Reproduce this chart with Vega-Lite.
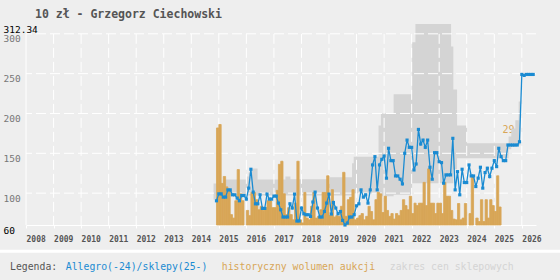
{
  "$schema": "https://vega.github.io/schema/vega-lite/v6.json",
  "width": 510,
  "height": 201,
  "autosize": {"type": "none"},
  "padding": {"left": 26, "top": 24, "right": 24, "bottom": 55},
  "background": "#eeeeee",
  "title": {"text": "10 zł - Grzegorz Ciechowski", "anchor": "start", "frame": "group", "dx": 9, "dy": 12, "offset": 7, "baseline": "alphabetic", "font": "DejaVu Sans Mono", "fontSize": 11.5, "fontWeight": "bold", "color": "#555555"},
  "config": {"view": {"stroke": null}, "font": "DejaVu Sans Mono"},
  "datasets": {
    "price": [
      {"d":"2014-12-01","p":90.4},{"d":"2015-01-01","p":99.1},{"d":"2015-02-01","p":99.1},{"d":"2015-03-01","p":95},{"d":"2015-04-01","p":95},{"d":"2015-05-01","p":104.1},{"d":"2015-06-01","p":104.1},{"d":"2015-07-01","p":97.9},{"d":"2015-08-01","p":97.9},{"d":"2015-09-01","p":93.8},{"d":"2015-10-01","p":90.4},{"d":"2015-11-01","p":97},{"d":"2015-12-01","p":97},
      {"d":"2016-01-01","p":92.5},{"d":"2016-02-01","p":106.3},{"d":"2016-03-01","p":130},{"d":"2016-04-01","p":101.3},{"d":"2016-05-01","p":86.6},{"d":"2016-06-01","p":86.6},{"d":"2016-07-01","p":97.9},{"d":"2016-08-01","p":80.8},{"d":"2016-09-01","p":80.8},{"d":"2016-10-01","p":98.8},{"d":"2016-11-01","p":92.5},{"d":"2016-12-01","p":92.5},
      {"d":"2017-01-01","p":96.3},{"d":"2017-02-01","p":96.3},{"d":"2017-03-01","p":87.5},{"d":"2017-04-01","p":79.1},{"d":"2017-05-01","p":70},{"d":"2017-06-01","p":70},{"d":"2017-07-01","p":70},{"d":"2017-08-01","p":86.6},{"d":"2017-09-01","p":81.3},{"d":"2017-10-01","p":98.8},{"d":"2017-11-01","p":65},{"d":"2017-12-01","p":65},
      {"d":"2018-01-01","p":81.3},{"d":"2018-02-01","p":74.1},{"d":"2018-03-01","p":72.9},{"d":"2018-04-01","p":72.9},{"d":"2018-05-01","p":70.8},{"d":"2018-06-01","p":88.8},{"d":"2018-07-01","p":101.3},{"d":"2018-08-01","p":81.3},{"d":"2018-09-01","p":70},{"d":"2018-10-01","p":70},{"d":"2018-11-01","p":77},{"d":"2018-12-01","p":87.5},
      {"d":"2019-01-01","p":98.8},{"d":"2019-02-01","p":73.8},{"d":"2019-03-01","p":88.3},{"d":"2019-04-01","p":81.3},{"d":"2019-05-01","p":74.1},{"d":"2019-06-01","p":77},{"d":"2019-07-01","p":65.8},{"d":"2019-08-01","p":60},{"d":"2019-09-01","p":62.5},{"d":"2019-10-01","p":70},{"d":"2019-11-01","p":70},{"d":"2019-12-01","p":72.9},
      {"d":"2020-01-01","p":84.1},{"d":"2020-02-01","p":86.6},{"d":"2020-03-01","p":104.1},{"d":"2020-04-01","p":95},{"d":"2020-05-01","p":97.9},{"d":"2020-06-01","p":87.5},{"d":"2020-07-01","p":104.1},{"d":"2020-08-01","p":135.4},{"d":"2020-09-01","p":145.8},{"d":"2020-10-01","p":104.1},{"d":"2020-11-01","p":135.4},{"d":"2020-12-01","p":142.5},
      {"d":"2021-01-01","p":146.6},{"d":"2021-02-01","p":118.8},{"d":"2021-03-01","p":156.3},{"d":"2021-04-01","p":140.8},{"d":"2021-05-01","p":140.8},{"d":"2021-06-01","p":121.6},{"d":"2021-07-01","p":121.6},{"d":"2021-08-01","p":117.5},{"d":"2021-09-01","p":111.6},{"d":"2021-10-01","p":150},{"d":"2021-11-01","p":166.6},{"d":"2021-12-01","p":157.5},
      {"d":"2022-01-01","p":157.5},{"d":"2022-02-01","p":129.1},{"d":"2022-03-01","p":136.6},{"d":"2022-04-01","p":180},{"d":"2022-05-01","p":161.6},{"d":"2022-06-01","p":166.6},{"d":"2022-07-01","p":157.5},{"d":"2022-08-01","p":166.6},{"d":"2022-09-01","p":132.5},{"d":"2022-10-01","p":117.5},{"d":"2022-11-01","p":150.8},{"d":"2022-12-01","p":150.8},
      {"d":"2023-01-01","p":139.5},{"d":"2023-02-01","p":138.3},{"d":"2023-03-01","p":112.5},{"d":"2023-04-01","p":122.9},{"d":"2023-05-01","p":122.9},{"d":"2023-06-01","p":122.9},{"d":"2023-07-01","p":168.8},{"d":"2023-08-01","p":104.1},{"d":"2023-09-01","p":127},{"d":"2023-10-01","p":97.9},{"d":"2023-11-01","p":130},{"d":"2023-12-01","p":113.3},
      {"d":"2024-01-01","p":113.3},{"d":"2024-02-01","p":135.4},{"d":"2024-03-01","p":121.6},{"d":"2024-04-01","p":121.6},{"d":"2024-05-01","p":108.3},{"d":"2024-06-01","p":118.8},{"d":"2024-07-01","p":132.5},{"d":"2024-08-01","p":106.3},{"d":"2024-09-01","p":125.8},{"d":"2024-10-01","p":131.3},{"d":"2024-11-01","p":120.8},{"d":"2024-12-01","p":131.3},
      {"d":"2025-01-01","p":140.8},{"d":"2025-02-01","p":133.3},{"d":"2025-03-01","p":156.3},{"d":"2025-04-01","p":145.8},{"d":"2025-05-01","p":140.8},{"d":"2025-06-01","p":140.8},{"d":"2025-07-01","p":160.4},{"d":"2025-08-01","p":160.4},{"d":"2025-09-01","p":160.4},{"d":"2025-10-01","p":160.4},{"d":"2025-11-01","p":160.4},{"d":"2025-12-01","p":164.5},
      {"d":"2026-01-01","p":249},{"d":"2026-02-01","p":247.8},{"d":"2026-03-01","p":249},{"d":"2026-04-01","p":249},{"d":"2026-05-01","p":249},{"d":"2026-06-01","p":249}
    ],
    "vol": [
      {"d":"2014-12-01","e":"2015-01-01","v":28},{"d":"2015-01-01","e":"2015-02-01","v":29},{"d":"2015-02-01","e":"2015-03-01","v":12},{"d":"2015-03-01","e":"2015-04-01","v":14},{"d":"2015-04-01","e":"2015-05-01","v":11},{"d":"2015-05-01","e":"2015-06-01","v":10},{"d":"2015-06-01","e":"2015-07-01","v":3},{"d":"2015-07-01","e":"2015-08-01","v":2},{"d":"2015-08-01","e":"2015-09-01","v":7},{"d":"2015-09-01","e":"2015-10-01","v":16},{"d":"2015-10-01","e":"2015-11-01","v":9},{"d":"2015-11-01","e":"2015-12-01","v":7},
      {"d":"2016-01-01","e":"2016-02-01","v":4.2},{"d":"2016-02-01","e":"2016-03-01","v":2.7},{"d":"2016-03-01","e":"2016-04-01","v":9.4},{"d":"2016-04-01","e":"2016-05-01","v":9.4},{"d":"2016-05-01","e":"2016-06-01","v":7.3},{"d":"2016-06-01","e":"2016-07-01","v":4.4},{"d":"2016-07-01","e":"2016-08-01","v":5.4},{"d":"2016-08-01","e":"2016-09-01","v":4.2},{"d":"2016-09-01","e":"2016-10-01","v":5},{"d":"2016-10-01","e":"2016-11-01","v":7},{"d":"2016-11-01","e":"2016-12-01","v":7},{"d":"2016-12-01","e":"2017-01-01","v":5},
      {"d":"2017-01-01","e":"2017-02-01","v":5},{"d":"2017-02-01","e":"2017-03-01","v":10},{"d":"2017-03-01","e":"2017-04-01","v":17.5},{"d":"2017-04-01","e":"2017-05-01","v":18.4},{"d":"2017-05-01","e":"2017-06-01","v":9},{"d":"2017-06-01","e":"2017-07-01","v":3},{"d":"2017-07-01","e":"2017-08-01","v":5},{"d":"2017-08-01","e":"2017-09-01","v":3},{"d":"2017-09-01","e":"2017-10-01","v":1.5},{"d":"2017-10-01","e":"2017-11-01","v":6.3},{"d":"2017-11-01","e":"2017-12-01","v":18.4},{"d":"2017-12-01","e":"2018-01-01","v":1.5},
      {"d":"2018-01-01","e":"2018-02-01","v":0.6},{"d":"2018-02-01","e":"2018-03-01","v":9.4},{"d":"2018-03-01","e":"2018-04-01","v":2},{"d":"2018-04-01","e":"2018-05-01","v":1.5},{"d":"2018-05-01","e":"2018-06-01","v":5.4},{"d":"2018-06-01","e":"2018-07-01","v":9.4},{"d":"2018-07-01","e":"2018-08-01","v":2},{"d":"2018-08-01","e":"2018-09-01","v":2.5},{"d":"2018-09-01","e":"2018-10-01","v":4.4},{"d":"2018-10-01","e":"2018-11-01","v":9.4},{"d":"2018-11-01","e":"2018-12-01","v":9.4},{"d":"2018-12-01","e":"2019-01-01","v":14.2},
      {"d":"2019-01-01","e":"2019-02-01","v":2.7},{"d":"2019-02-01","e":"2019-03-01","v":10.2},{"d":"2019-03-01","e":"2019-04-01","v":2.3},{"d":"2019-04-01","e":"2019-05-01","v":2.7},{"d":"2019-05-01","e":"2019-06-01","v":2.5},{"d":"2019-06-01","e":"2019-07-01","v":5.4},{"d":"2019-07-01","e":"2019-08-01","v":15.2},{"d":"2019-08-01","e":"2019-09-01","v":2.5},{"d":"2019-09-01","e":"2019-10-01","v":7.3},{"d":"2019-10-01","e":"2019-11-01","v":8},{"d":"2019-11-01","e":"2019-12-01","v":10.2},{"d":"2019-12-01","e":"2020-01-01","v":1.5},
      {"d":"2020-01-01","e":"2020-02-01","v":2},{"d":"2020-02-01","e":"2020-03-01","v":2.7},{"d":"2020-03-01","e":"2020-04-01","v":3.3},{"d":"2020-04-01","e":"2020-05-01","v":1.5},{"d":"2020-05-01","e":"2020-06-01","v":2.5},{"d":"2020-06-01","e":"2020-07-01","v":5.4},{"d":"2020-07-01","e":"2020-08-01","v":3.9},{"d":"2020-08-01","e":"2020-09-01","v":1.5},{"d":"2020-09-01","e":"2020-10-01","v":7.3},{"d":"2020-10-01","e":"2020-11-01","v":9.4},{"d":"2020-11-01","e":"2020-12-01","v":9},{"d":"2020-12-01","e":"2021-01-01","v":3.6},
      {"d":"2021-01-01","e":"2021-02-01","v":8.3},{"d":"2021-02-01","e":"2021-03-01","v":4.2},{"d":"2021-03-01","e":"2021-04-01","v":2.5},{"d":"2021-04-01","e":"2021-05-01","v":3.3},{"d":"2021-05-01","e":"2021-06-01","v":1.7},{"d":"2021-06-01","e":"2021-07-01","v":3.3},{"d":"2021-07-01","e":"2021-08-01","v":2.7},{"d":"2021-08-01","e":"2021-09-01","v":4.2},{"d":"2021-09-01","e":"2021-10-01","v":7.3},{"d":"2021-10-01","e":"2021-11-01","v":5.6},{"d":"2021-11-01","e":"2021-12-01","v":4.4},{"d":"2021-12-01","e":"2022-01-01","v":8.3},
      {"d":"2022-01-01","e":"2022-02-01","v":3.3},{"d":"2022-02-01","e":"2022-03-01","v":6.3},{"d":"2022-03-01","e":"2022-04-01","v":5.6},{"d":"2022-04-01","e":"2022-05-01","v":6.3},{"d":"2022-05-01","e":"2022-06-01","v":6.3},{"d":"2022-06-01","e":"2022-07-01","v":12.3},{"d":"2022-07-01","e":"2022-08-01","v":5.6},{"d":"2022-08-01","e":"2022-09-01","v":16.2},{"d":"2022-09-01","e":"2022-10-01","v":6.3},{"d":"2022-10-01","e":"2022-11-01","v":6.3},{"d":"2022-11-01","e":"2022-12-01","v":3.3},{"d":"2022-12-01","e":"2023-01-01","v":6.3},
      {"d":"2023-01-01","e":"2023-02-01","v":6.3},{"d":"2023-02-01","e":"2023-03-01","v":3.3},{"d":"2023-03-01","e":"2023-04-01","v":12.3},{"d":"2023-04-01","e":"2023-05-01","v":8.3},{"d":"2023-05-01","e":"2023-06-01","v":8.3},{"d":"2023-06-01","e":"2023-07-01","v":4.2},{"d":"2023-07-01","e":"2023-08-01","v":1.7},{"d":"2023-08-01","e":"2023-09-01","v":1.5},{"d":"2023-09-01","e":"2023-10-01","v":6.2},{"d":"2023-10-01","e":"2023-11-01","v":1.5},{"d":"2023-11-01","e":"2023-12-01","v":2},{"d":"2023-12-01","e":"2024-01-01","v":6.2},
      {"d":"2024-02-01","e":"2024-03-01","v":3.3},{"d":"2024-03-01","e":"2024-04-01","v":14.2},{"d":"2024-05-01","e":"2024-06-01","v":2},{"d":"2024-06-01","e":"2024-07-01","v":1},{"d":"2024-07-01","e":"2024-08-01","v":7.3},{"d":"2024-08-01","e":"2024-09-01","v":1},{"d":"2024-09-01","e":"2024-10-01","v":7.3},{"d":"2024-10-01","e":"2024-11-01","v":2},{"d":"2024-11-01","e":"2024-12-01","v":7.3},{"d":"2024-12-01","e":"2025-01-01","v":5.6},
      {"d":"2025-01-01","e":"2025-02-01","v":3.9},{"d":"2025-02-01","e":"2025-03-01","v":14.2},{"d":"2025-03-01","e":"2025-04-01","v":5.2}
    ],
    "band": [
      {"d":"2014-10-23","lo":92,"hi":112},{"d":"2015-01-01","lo":97,"hi":112},{"d":"2015-03-28","lo":97,"hi":117},{"d":"2016-01-08","lo":97,"hi":121},{"d":"2016-02-01","lo":97,"hi":126},{"d":"2016-02-20","lo":97,"hi":131},{"d":"2016-05-29","lo":97,"hi":117},{"d":"2017-06-02","lo":97,"hi":121},{"d":"2017-08-07","lo":97,"hi":117.5},{"d":"2018-12-24","lo":97,"hi":120},{"d":"2019-11-03","lo":100,"hi":137.5},{"d":"2019-11-25","lo":100,"hi":145.8},{"d":"2020-10-19","lo":96,"hi":185},{"d":"2020-11-20","lo":96,"hi":200},{"d":"2021-05-07","lo":98,"hi":224},{"d":"2022-01-07","lo":112.5,"hi":289.5},{"d":"2022-02-20","lo":112.5,"hi":312.34},{"d":"2023-06-08","lo":112.5,"hi":284},{"d":"2023-07-08","lo":130,"hi":230},{"d":"2023-08-26","lo":143.8,"hi":185},{"d":"2024-01-04","lo":143.8,"hi":162.5},{"d":"2025-07-09","lo":155,"hi":171},{"d":"2025-08-14","lo":158,"hi":181},{"d":"2025-10-07","lo":160,"hi":191.6},{"d":"2025-11-20","lo":160,"hi":215},{"d":"2025-12-13","lo":160,"hi":215}
    ]
  },
  "layer": [
    {
      "data": {"name": "band"},
      "mark": {"type": "area", "interpolate": "step-after"},
      "encoding": {
        "x": {"field": "d", "type": "temporal", "scale": {"domain": [{"year": 2008, "month": 1, "date": 1}, {"year": 2026, "month": 7, "date": 8}], "nice": false},
          "axis": {"tickCount": {"interval": "year", "step": 1}, "format": "%Y", "labelAlign": "left", "labelFont": "DejaVu Sans Mono", "labelFontSize": 8, "labelFontWeight": "bold", "labelColor": "#555555", "labelPadding": 7, "tickColor": "white", "tickSize": 3, "domainColor": "white", "grid": false, "title": null, "labelFlush": false, "labelOverlap": false, "labelBound": false}},
        "y": {"field": "hi", "type": "quantitative", "scale": {"domain": [60, 312.34], "nice": false, "zero": false},
          "axis": {"values": [60, 100, 150, 200, 250, 300, 312.34], "format": ".5~r", "labelAlign": "left", "labelBaseline": "top", "labelPadding": 23, "ticks": false, "tickSize": 0, "domain": false, "grid": false, "title": null, "labelFont": "DejaVu Sans Mono", "labelFontSize": 9.5, "labelOverlap": false, "labelFlush": false, "labelBound": false,
            "labelColor": {"condition": {"test": "datum.value == 60 || datum.value > 310", "value": "#000000"}, "value": "#777777"}}},
        "y2": {"field": "lo"},
        "color": {"datum": "zakres cen sklepowych", "type": "nominal",
          "scale": {"domain": ["Allegro(-24)/sklepy(25-)", "historyczny wolumen aukcji", "zakres cen sklepowych"], "range": ["#1a8bd2", "#d8a657", "#d4d4d4"]},
          "legend": {"title": "Legenda:", "orient": "none", "legendX": -16, "legendY": 238, "direction": "horizontal", "titleOrient": "left", "titleAngle": 0, "titlePadding": -2, "titleFont": "DejaVu Sans Mono", "titleFontSize": 9.8, "titleFontWeight": "normal", "titleColor": "#555555", "titleBaseline": "middle", "labelFont": "DejaVu Sans Mono", "labelFontSize": 9.8, "labelColor": {"expr": "scale('color', datum.value)"}, "labelOffset": 0, "symbolSize": 0, "symbolOpacity": 0, "symbolStrokeWidth": 0, "columnPadding": 4, "labelLimit": 300}}
      }
    },
    {
      "data": {"values": [{"g": 100}, {"g": 150}, {"g": 200}, {"g": 250}, {"g": 300}]},
      "mark": {"type": "rule", "color": "white", "strokeWidth": 1, "strokeDash": [10, 4]},
      "encoding": {
        "y": {"field": "g", "type": "quantitative", "scale": {"domain": [60, 312.34], "nice": false, "zero": false}, "axis": null}
      }
    },
    {
      "data": {"values": [{"d":"2009-01-01"},{"d":"2010-01-01"},{"d":"2011-01-01"},{"d":"2012-01-01"},{"d":"2013-01-01"},{"d":"2014-01-01"},{"d":"2015-01-01"},{"d":"2016-01-01"},{"d":"2017-01-01"},{"d":"2018-01-01"},{"d":"2019-01-01"},{"d":"2020-01-01"},{"d":"2021-01-01"},{"d":"2022-01-01"},{"d":"2023-01-01"},{"d":"2024-01-01"},{"d":"2025-01-01"},{"d":"2026-01-01"}]},
      "mark": {"type": "rule", "color": "white", "strokeWidth": 1, "strokeDash": [10, 4]},
      "encoding": {
        "x": {"field": "d", "type": "temporal", "scale": {"domain": [{"year": 2008, "month": 1, "date": 1}, {"year": 2026, "month": 7, "date": 8}], "nice": false},
          "axis": {"tickCount": {"interval": "year", "step": 1}, "format": "%Y", "labelAlign": "left", "labelFont": "DejaVu Sans Mono", "labelFontSize": 8, "labelFontWeight": "bold", "labelColor": "#555555", "labelPadding": 7, "tickColor": "white", "tickSize": 3, "domainColor": "white", "grid": false, "title": null, "labelFlush": false, "labelOverlap": false, "labelBound": false}},
        "y": {"datum": 300, "type": "quantitative", "scale": {"domain": [60, 312.34], "nice": false, "zero": false}, "axis": null},
        "y2": {"datum": 60}
      }
    },
    {
      "data": {"values": [{"d":"2008-01-01"}]},
      "mark": {"type": "rule", "color": "white", "strokeWidth": 1},
      "encoding": {
        "x": {"field": "d", "type": "temporal", "scale": {"domain": [{"year": 2008, "month": 1, "date": 1}, {"year": 2026, "month": 7, "date": 8}], "nice": false},
          "axis": {"tickCount": {"interval": "year", "step": 1}, "format": "%Y", "labelAlign": "left", "labelFont": "DejaVu Sans Mono", "labelFontSize": 8, "labelFontWeight": "bold", "labelColor": "#555555", "labelPadding": 7, "tickColor": "white", "tickSize": 3, "domainColor": "white", "grid": false, "title": null, "labelFlush": false, "labelOverlap": false, "labelBound": false}},
        "y": {"datum": 300, "type": "quantitative", "scale": {"domain": [60, 312.34], "nice": false, "zero": false}, "axis": null},
        "y2": {"datum": 60}
      }
    },
    {
      "data": {"values": [{"s": 1}]},
      "mark": {"type": "rule", "color": "white", "strokeWidth": 3, "clip": false},
      "encoding": {
        "x": {"datum": {"year": 2006, "month": 1, "date": 1}, "type": "temporal", "scale": {"domain": [{"year": 2008, "month": 1, "date": 1}, {"year": 2026, "month": 7, "date": 8}], "nice": false},
          "axis": {"tickCount": {"interval": "year", "step": 1}, "format": "%Y", "labelAlign": "left", "labelFont": "DejaVu Sans Mono", "labelFontSize": 8, "labelFontWeight": "bold", "labelColor": "#555555", "labelPadding": 7, "tickColor": "white", "tickSize": 3, "domainColor": "white", "grid": false, "title": null, "labelFlush": false, "labelOverlap": false, "labelBound": false}},
        "x2": {"datum": {"year": 2028, "month": 1, "date": 1}},
        "y": {"datum": 27, "type": "quantitative", "scale": {"domain": [60, 312.34], "nice": false, "zero": false}, "axis": null}
      }
    },
    {
      "data": {"name": "vol"},
      "mark": {"type": "bar", "stroke": "#d8a657", "strokeWidth": 0.8},
      "encoding": {
        "x": {"field": "d", "type": "temporal", "scale": {"domain": [{"year": 2008, "month": 1, "date": 1}, {"year": 2026, "month": 7, "date": 8}], "nice": false},
          "axis": {"tickCount": {"interval": "year", "step": 1}, "format": "%Y", "labelAlign": "left", "labelFont": "DejaVu Sans Mono", "labelFontSize": 8, "labelFontWeight": "bold", "labelColor": "#555555", "labelPadding": 7, "tickColor": "white", "tickSize": 3, "domainColor": "white", "grid": false, "title": null, "labelFlush": false, "labelOverlap": false, "labelBound": false}},
        "x2": {"field": "e"},
        "y": {"field": "v", "type": "quantitative", "scale": {"domain": [0, 58], "nice": false},
          "axis": {"orient": "right", "values": [29], "labelAlign": "right", "labelBaseline": "top", "labelPadding": -22, "labelColor": "#d8a657", "labelFont": "DejaVu Sans Mono", "labelFontSize": 10, "domain": false, "ticks": false, "tickSize": 0, "grid": false, "title": null}},
        "y2": {"datum": 0},
        "color": {"datum": "historyczny wolumen aukcji", "type": "nominal",
          "scale": {"domain": ["Allegro(-24)/sklepy(25-)", "historyczny wolumen aukcji", "zakres cen sklepowych"], "range": ["#1a8bd2", "#d8a657", "#d4d4d4"]},
          "legend": {"title": "Legenda:", "orient": "none", "legendX": -16, "legendY": 238, "direction": "horizontal", "titleOrient": "left", "titleAngle": 0, "titlePadding": -2, "titleFont": "DejaVu Sans Mono", "titleFontSize": 9.8, "titleFontWeight": "normal", "titleColor": "#555555", "titleBaseline": "middle", "labelFont": "DejaVu Sans Mono", "labelFontSize": 9.8, "labelColor": {"expr": "scale('color', datum.value)"}, "labelOffset": 0, "symbolSize": 0, "symbolOpacity": 0, "symbolStrokeWidth": 0, "columnPadding": 4, "labelLimit": 300}}
      }
    },
    {
      "data": {"name": "price"},
      "mark": {"type": "line", "strokeWidth": 1.3},
      "encoding": {
        "x": {"field": "d", "type": "temporal", "scale": {"domain": [{"year": 2008, "month": 1, "date": 1}, {"year": 2026, "month": 7, "date": 8}], "nice": false},
          "axis": {"tickCount": {"interval": "year", "step": 1}, "format": "%Y", "labelAlign": "left", "labelFont": "DejaVu Sans Mono", "labelFontSize": 8, "labelFontWeight": "bold", "labelColor": "#555555", "labelPadding": 7, "tickColor": "white", "tickSize": 3, "domainColor": "white", "grid": false, "title": null, "labelFlush": false, "labelOverlap": false, "labelBound": false}},
        "y": {"field": "p", "type": "quantitative", "scale": {"domain": [60, 312.34], "nice": false, "zero": false}, "axis": null},
        "color": {"datum": "Allegro(-24)/sklepy(25-)", "type": "nominal",
          "scale": {"domain": ["Allegro(-24)/sklepy(25-)", "historyczny wolumen aukcji", "zakres cen sklepowych"], "range": ["#1a8bd2", "#d8a657", "#d4d4d4"]},
          "legend": {"title": "Legenda:", "orient": "none", "legendX": -16, "legendY": 238, "direction": "horizontal", "titleOrient": "left", "titleAngle": 0, "titlePadding": -2, "titleFont": "DejaVu Sans Mono", "titleFontSize": 9.8, "titleFontWeight": "normal", "titleColor": "#555555", "titleBaseline": "middle", "labelFont": "DejaVu Sans Mono", "labelFontSize": 9.8, "labelColor": {"expr": "scale('color', datum.value)"}, "labelOffset": 0, "symbolSize": 0, "symbolOpacity": 0, "symbolStrokeWidth": 0, "columnPadding": 4, "labelLimit": 300}}
      }
    },
    {
      "data": {"name": "price"},
      "mark": {"type": "point", "shape": "square", "filled": true, "size": 10, "opacity": 1, "strokeWidth": 0},
      "encoding": {
        "x": {"field": "d", "type": "temporal", "scale": {"domain": [{"year": 2008, "month": 1, "date": 1}, {"year": 2026, "month": 7, "date": 8}], "nice": false},
          "axis": {"tickCount": {"interval": "year", "step": 1}, "format": "%Y", "labelAlign": "left", "labelFont": "DejaVu Sans Mono", "labelFontSize": 8, "labelFontWeight": "bold", "labelColor": "#555555", "labelPadding": 7, "tickColor": "white", "tickSize": 3, "domainColor": "white", "grid": false, "title": null, "labelFlush": false, "labelOverlap": false, "labelBound": false}},
        "y": {"field": "p", "type": "quantitative", "scale": {"domain": [60, 312.34], "nice": false, "zero": false}, "axis": null},
        "color": {"datum": "Allegro(-24)/sklepy(25-)", "type": "nominal",
          "scale": {"domain": ["Allegro(-24)/sklepy(25-)", "historyczny wolumen aukcji", "zakres cen sklepowych"], "range": ["#1a8bd2", "#d8a657", "#d4d4d4"]},
          "legend": {"title": "Legenda:", "orient": "none", "legendX": -16, "legendY": 238, "direction": "horizontal", "titleOrient": "left", "titleAngle": 0, "titlePadding": -2, "titleFont": "DejaVu Sans Mono", "titleFontSize": 9.8, "titleFontWeight": "normal", "titleColor": "#555555", "titleBaseline": "middle", "labelFont": "DejaVu Sans Mono", "labelFontSize": 9.8, "labelColor": {"expr": "scale('color', datum.value)"}, "labelOffset": 0, "symbolSize": 0, "symbolOpacity": 0, "symbolStrokeWidth": 0, "columnPadding": 4, "labelLimit": 300}}
      }
    }
  ],
  "resolve": {"scale": {"y": "independent"}}
}
